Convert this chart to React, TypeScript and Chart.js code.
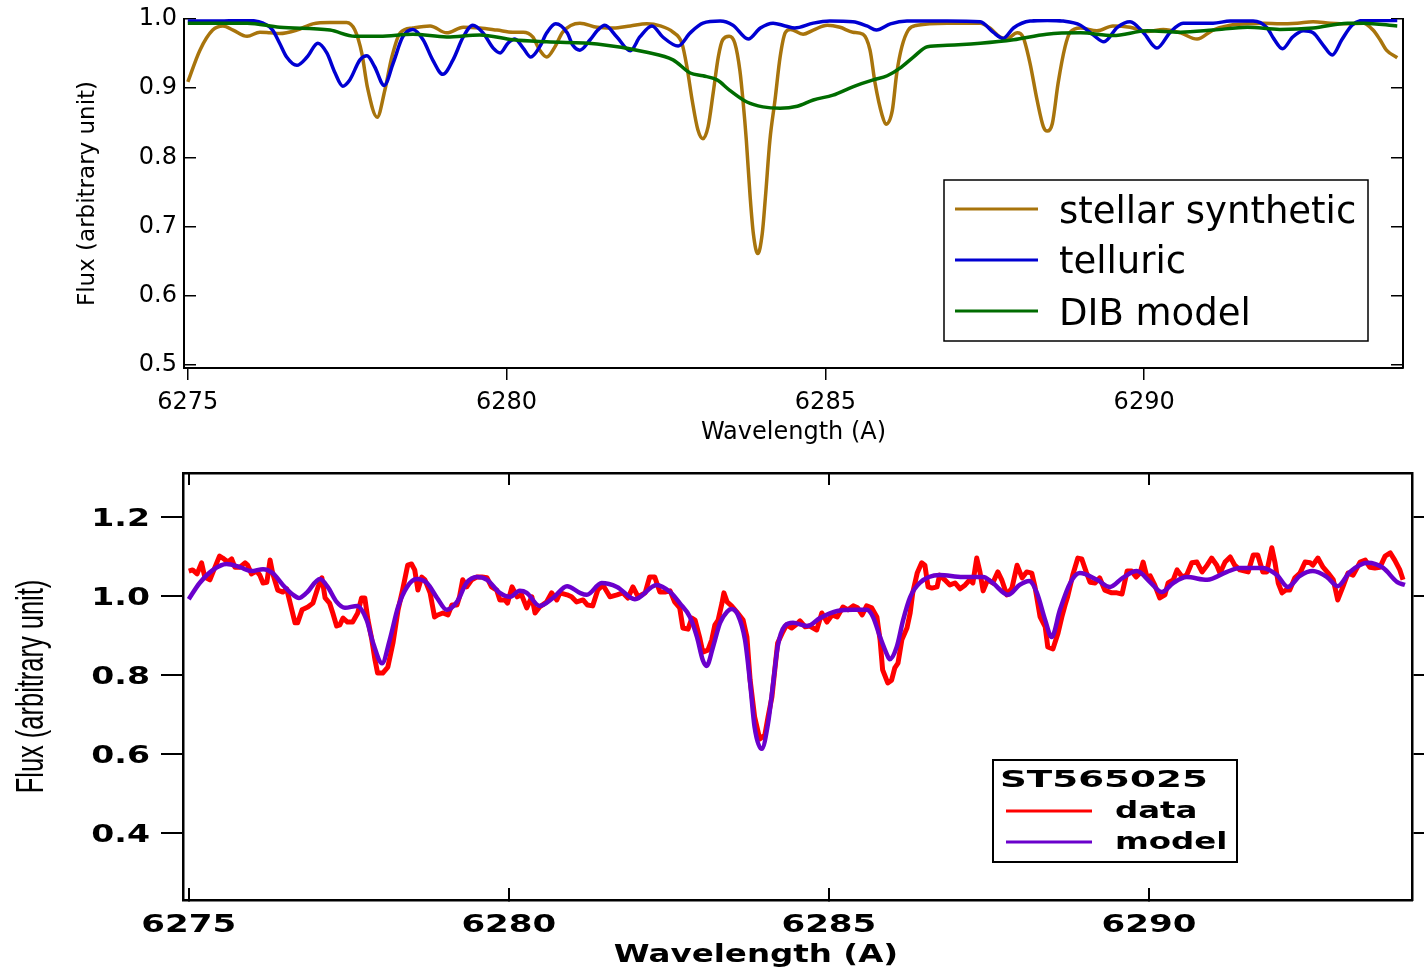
import React, { useEffect, useRef } from "react";
import { Chart, registerables } from "chart.js";

Chart.register(...registerables);

// ---------- shared ticks ----------
const xTickValues = [6275, 6280, 6285, 6290];
const topYTickValues = [0.5, 0.6, 0.7, 0.8, 0.9, 1.0];
const bottomYTickValues = [0.4, 0.6, 0.8, 1.0, 1.2];

// ---------- top panel series: [wavelength (A), flux] ----------
const stellarSynthetic: [number, number][] = [
  [6275.0, 0.909], [6275.19, 0.955], [6275.39, 0.984], [6275.55, 0.99], [6275.71, 0.984], [6275.93, 0.975],
  [6276.13, 0.981], [6276.29, 0.98], [6276.44, 0.979], [6276.71, 0.984], [6276.96, 0.993], [6277.23, 0.995],
  [6277.49, 0.995], [6277.62, 0.984], [6277.73, 0.95], [6277.82, 0.9], [6277.97, 0.858], [6278.09, 0.897],
  [6278.2, 0.945], [6278.33, 0.98], [6278.53, 0.987], [6278.8, 0.99], [6279.06, 0.98], [6279.32, 0.988],
  [6279.58, 0.987], [6279.85, 0.984], [6280.1, 0.981], [6280.26, 0.981], [6280.41, 0.974], [6280.52, 0.955],
  [6280.63, 0.945], [6280.76, 0.96], [6280.88, 0.981], [6281.15, 0.994], [6281.42, 0.988], [6281.67, 0.987],
  [6281.94, 0.99], [6282.2, 0.993], [6282.41, 0.99], [6282.61, 0.981], [6282.75, 0.965], [6282.83, 0.93],
  [6282.91, 0.883], [6283.0, 0.84], [6283.08, 0.827], [6283.16, 0.844], [6283.24, 0.893], [6283.32, 0.945],
  [6283.39, 0.97], [6283.49, 0.975], [6283.58, 0.965], [6283.66, 0.925], [6283.71, 0.88], [6283.76, 0.825],
  [6283.82, 0.743], [6283.87, 0.69], [6283.94, 0.661], [6284.01, 0.69], [6284.06, 0.743], [6284.13, 0.825],
  [6284.21, 0.883], [6284.29, 0.945], [6284.37, 0.98], [6284.45, 0.985], [6284.65, 0.978], [6284.81, 0.984],
  [6285.03, 0.991], [6285.23, 0.988], [6285.43, 0.981], [6285.59, 0.978], [6285.7, 0.955], [6285.78, 0.907],
  [6285.89, 0.861], [6285.95, 0.848], [6286.05, 0.868], [6286.12, 0.922], [6286.2, 0.96], [6286.3, 0.984],
  [6286.44, 0.991], [6286.91, 0.994], [6287.43, 0.994], [6287.58, 0.987], [6287.74, 0.974], [6287.85, 0.972],
  [6288.01, 0.98], [6288.1, 0.974], [6288.21, 0.936], [6288.32, 0.883], [6288.42, 0.844], [6288.48, 0.838],
  [6288.56, 0.849], [6288.65, 0.907], [6288.76, 0.96], [6288.84, 0.981], [6289.0, 0.987], [6289.26, 0.983],
  [6289.51, 0.99], [6289.78, 0.988], [6290.05, 0.982], [6290.3, 0.985], [6290.57, 0.98], [6290.83, 0.971],
  [6291.08, 0.984], [6291.35, 0.991], [6291.62, 0.993], [6291.87, 0.994], [6292.14, 0.993], [6292.4, 0.994],
  [6292.65, 0.996], [6292.92, 0.994], [6293.19, 0.993], [6293.44, 0.994], [6293.59, 0.984], [6293.7, 0.97],
  [6293.8, 0.955], [6293.97, 0.944],
];

const telluric: [number, number][] = [
  [6275.0, 0.997], [6275.39, 0.997], [6275.93, 0.998], [6276.18, 0.994], [6276.33, 0.984], [6276.44, 0.965],
  [6276.55, 0.945], [6276.71, 0.933], [6276.87, 0.945], [6277.04, 0.965], [6277.18, 0.951], [6277.31, 0.922],
  [6277.43, 0.903], [6277.54, 0.912], [6277.7, 0.941], [6277.81, 0.947], [6277.93, 0.931], [6278.08, 0.904],
  [6278.22, 0.936], [6278.37, 0.974], [6278.53, 0.985], [6278.69, 0.97], [6278.84, 0.941], [6279.0, 0.92],
  [6279.16, 0.941], [6279.32, 0.974], [6279.47, 0.991], [6279.63, 0.98], [6279.79, 0.958], [6279.9, 0.951],
  [6280.02, 0.965], [6280.13, 0.971], [6280.26, 0.958], [6280.38, 0.945], [6280.52, 0.96], [6280.63, 0.98],
  [6280.77, 0.993], [6280.95, 0.98], [6281.04, 0.962], [6281.15, 0.955], [6281.31, 0.97], [6281.43, 0.984],
  [6281.54, 0.991], [6281.73, 0.974], [6281.94, 0.954], [6282.09, 0.974], [6282.28, 0.99], [6282.45, 0.974],
  [6282.69, 0.961], [6282.88, 0.98], [6283.08, 0.994], [6283.35, 0.997], [6283.55, 0.991], [6283.79, 0.971],
  [6283.98, 0.987], [6284.18, 0.994], [6284.37, 0.99], [6284.52, 0.987], [6284.81, 0.994], [6285.07, 0.997],
  [6285.43, 0.996], [6285.65, 0.99], [6285.8, 0.984], [6286.02, 0.993], [6286.28, 0.997], [6286.91, 0.997],
  [6287.43, 0.996], [6287.63, 0.981], [6287.79, 0.972], [6287.95, 0.987], [6288.21, 0.997], [6288.48, 0.998],
  [6288.73, 0.997], [6289.0, 0.991], [6289.2, 0.977], [6289.37, 0.967], [6289.58, 0.988], [6289.78, 0.996],
  [6289.99, 0.98], [6290.2, 0.958], [6290.41, 0.981], [6290.61, 0.994], [6291.08, 0.994], [6291.35, 0.997],
  [6291.71, 0.997], [6291.93, 0.987], [6292.03, 0.972], [6292.17, 0.957], [6292.33, 0.974], [6292.5, 0.983],
  [6292.65, 0.98], [6292.81, 0.962], [6292.95, 0.948], [6293.1, 0.97], [6293.26, 0.991], [6293.44, 0.998],
  [6293.97, 0.998],
];

const dibModel: [number, number][] = [
  [6275.0, 0.994], [6275.93, 0.994], [6276.44, 0.988], [6277.23, 0.984], [6277.62, 0.975], [6278.01, 0.975],
  [6278.53, 0.978], [6279.06, 0.974], [6279.58, 0.977], [6280.1, 0.97], [6280.63, 0.967], [6281.42, 0.964],
  [6282.2, 0.952], [6282.61, 0.941], [6282.88, 0.922], [6283.08, 0.918], [6283.3, 0.912], [6283.5, 0.897],
  [6283.77, 0.88], [6284.02, 0.873], [6284.29, 0.871], [6284.56, 0.874], [6284.81, 0.883], [6285.12, 0.89],
  [6285.43, 0.902], [6285.75, 0.912], [6285.97, 0.918], [6286.17, 0.929], [6286.38, 0.945], [6286.6, 0.96],
  [6286.91, 0.962], [6287.43, 0.965], [6287.95, 0.97], [6288.47, 0.978], [6289.0, 0.98], [6289.51, 0.976],
  [6290.05, 0.983], [6290.57, 0.981], [6291.08, 0.984], [6291.62, 0.988], [6292.13, 0.985], [6292.65, 0.987],
  [6293.19, 0.994], [6293.44, 0.994], [6293.97, 0.99],
];

// ---------- bottom panel series ----------
const observedData: [number, number][] = [
  [6275.0, 1.063], [6275.06, 1.066], [6275.13, 1.056], [6275.2, 1.084], [6275.25, 1.048], [6275.33, 1.041],
  [6275.41, 1.073], [6275.48, 1.101], [6275.53, 1.096], [6275.61, 1.086], [6275.67, 1.094], [6275.72, 1.073],
  [6275.8, 1.073], [6275.88, 1.084], [6275.92, 1.078], [6275.98, 1.056], [6276.06, 1.063], [6276.11, 1.053],
  [6276.16, 1.033], [6276.22, 1.035], [6276.27, 1.091], [6276.31, 1.058], [6276.39, 1.015], [6276.47, 1.01],
  [6276.53, 1.018], [6276.61, 0.965], [6276.66, 0.932], [6276.7, 0.932], [6276.77, 0.965], [6276.86, 0.972],
  [6276.94, 0.982], [6277.02, 1.023], [6277.08, 1.046], [6277.13, 0.995], [6277.2, 0.982], [6277.25, 0.957],
  [6277.31, 0.924], [6277.36, 0.927], [6277.41, 0.944], [6277.48, 0.934], [6277.56, 0.934], [6277.64, 0.957],
  [6277.7, 0.995], [6277.75, 0.995], [6277.8, 0.939], [6277.86, 0.889], [6277.91, 0.838], [6277.95, 0.805],
  [6278.03, 0.805], [6278.11, 0.82], [6278.19, 0.881], [6278.27, 0.965], [6278.34, 1.015], [6278.42, 1.078],
  [6278.48, 1.081], [6278.53, 1.066], [6278.58, 1.015], [6278.64, 1.048], [6278.69, 1.041], [6278.77, 1.008],
  [6278.84, 0.947], [6278.89, 0.952], [6278.97, 0.957], [6279.05, 0.952], [6279.11, 0.977], [6279.19, 0.977],
  [6279.23, 0.998], [6279.28, 1.041], [6279.34, 1.023], [6279.42, 1.041], [6279.5, 1.048], [6279.58, 1.048],
  [6279.66, 1.046], [6279.73, 1.023], [6279.81, 1.015], [6279.86, 0.99], [6279.94, 0.99], [6279.98, 0.982],
  [6280.05, 1.023], [6280.13, 0.998], [6280.2, 1.003], [6280.28, 0.97], [6280.36, 0.998], [6280.41, 0.957],
  [6280.48, 0.972], [6280.59, 0.985], [6280.67, 1.008], [6280.75, 0.99], [6280.8, 1.008], [6280.91, 1.003],
  [6280.98, 0.998], [6281.06, 0.985], [6281.16, 0.99], [6281.23, 0.977], [6281.31, 0.975], [6281.39, 1.015],
  [6281.47, 1.028], [6281.58, 0.998], [6281.69, 1.003], [6281.78, 1.008], [6281.86, 0.995], [6281.94, 1.023],
  [6282.02, 0.998], [6282.13, 1.008], [6282.2, 1.048], [6282.28, 1.048], [6282.36, 1.01], [6282.44, 1.01],
  [6282.52, 1.013], [6282.59, 0.985], [6282.67, 0.97], [6282.72, 0.919], [6282.8, 0.916], [6282.86, 0.944],
  [6282.91, 0.939], [6282.98, 0.896], [6283.03, 0.858], [6283.11, 0.863], [6283.17, 0.889], [6283.22, 0.927],
  [6283.27, 0.939], [6283.33, 0.982], [6283.36, 1.008], [6283.41, 0.985], [6283.48, 0.975], [6283.56, 0.96],
  [6283.66, 0.939], [6283.72, 0.896], [6283.77, 0.787], [6283.84, 0.694], [6283.92, 0.638], [6284.0, 0.648],
  [6284.05, 0.694], [6284.11, 0.744], [6284.16, 0.82], [6284.2, 0.881], [6284.28, 0.909], [6284.34, 0.927],
  [6284.42, 0.919], [6284.5, 0.929], [6284.55, 0.937], [6284.63, 0.922], [6284.7, 0.924], [6284.81, 0.914],
  [6284.89, 0.957], [6284.97, 0.934], [6285.05, 0.952], [6285.13, 0.947], [6285.22, 0.972], [6285.3, 0.965],
  [6285.38, 0.975], [6285.45, 0.97], [6285.52, 0.952], [6285.59, 0.975], [6285.67, 0.97], [6285.75, 0.947],
  [6285.8, 0.889], [6285.84, 0.813], [6285.92, 0.78], [6285.98, 0.787], [6286.03, 0.818], [6286.08, 0.83],
  [6286.14, 0.889], [6286.22, 0.919], [6286.27, 0.957], [6286.31, 1.008], [6286.38, 1.058], [6286.45, 1.084],
  [6286.5, 1.078], [6286.55, 1.023], [6286.61, 1.02], [6286.69, 1.023], [6286.73, 1.053], [6286.81, 1.041],
  [6286.89, 1.028], [6286.97, 1.033], [6287.05, 1.018], [6287.13, 1.028], [6287.2, 1.041], [6287.25, 1.033],
  [6287.31, 1.096], [6287.36, 1.061], [6287.41, 1.013], [6287.48, 1.041], [6287.56, 1.033], [6287.64, 1.061],
  [6287.7, 1.041], [6287.78, 1.003], [6287.86, 1.02], [6287.94, 1.078], [6288.02, 1.046], [6288.09, 1.061],
  [6288.17, 1.058], [6288.22, 1.023], [6288.3, 0.947], [6288.38, 0.922], [6288.42, 0.871], [6288.5, 0.866],
  [6288.58, 0.906], [6288.64, 0.947], [6288.69, 0.977], [6288.73, 0.998], [6288.81, 1.053], [6288.89, 1.096],
  [6288.95, 1.094], [6289.02, 1.061], [6289.08, 1.035], [6289.16, 1.033], [6289.23, 1.046], [6289.31, 1.015],
  [6289.42, 1.008], [6289.5, 1.008], [6289.58, 1.005], [6289.66, 1.063], [6289.73, 1.063], [6289.8, 1.048],
  [6289.86, 1.058], [6289.91, 1.086], [6289.97, 1.048], [6290.02, 1.051], [6290.09, 1.028], [6290.17, 0.995],
  [6290.25, 1.003], [6290.3, 1.033], [6290.38, 1.041], [6290.44, 1.066], [6290.52, 1.048], [6290.59, 1.053],
  [6290.67, 1.084], [6290.75, 1.086], [6290.83, 1.061], [6290.91, 1.078], [6290.98, 1.096], [6291.06, 1.078],
  [6291.11, 1.058], [6291.19, 1.086], [6291.27, 1.099], [6291.34, 1.078], [6291.42, 1.066], [6291.5, 1.063],
  [6291.55, 1.061], [6291.63, 1.104], [6291.7, 1.104], [6291.78, 1.061], [6291.84, 1.061], [6291.92, 1.122],
  [6291.97, 1.084], [6292.02, 1.033], [6292.08, 1.008], [6292.14, 1.015], [6292.2, 1.015], [6292.28, 1.046],
  [6292.36, 1.058], [6292.44, 1.086], [6292.52, 1.084], [6292.56, 1.078], [6292.64, 1.096], [6292.72, 1.073],
  [6292.8, 1.058], [6292.88, 1.041], [6292.95, 0.99], [6293.03, 1.023], [6293.11, 1.058], [6293.19, 1.053],
  [6293.3, 1.086], [6293.38, 1.091], [6293.45, 1.073], [6293.53, 1.071], [6293.61, 1.073], [6293.69, 1.101],
  [6293.77, 1.109], [6293.84, 1.091], [6293.92, 1.066], [6293.97, 1.041],
];

const fitModel: [number, number][] = [
  [6275.0, 0.992], [6275.17, 1.033], [6275.38, 1.066], [6275.59, 1.081], [6275.8, 1.073], [6275.98, 1.063],
  [6276.16, 1.068], [6276.31, 1.058], [6276.47, 1.028], [6276.63, 1.003], [6276.72, 0.995], [6276.84, 1.008],
  [6277.05, 1.043], [6277.17, 1.023], [6277.31, 0.985], [6277.44, 0.97], [6277.63, 0.975], [6277.78, 0.939],
  [6277.88, 0.881], [6278.02, 0.83], [6278.14, 0.889], [6278.27, 0.972], [6278.41, 1.023], [6278.56, 1.043],
  [6278.72, 1.033], [6278.88, 0.995], [6279.03, 0.965], [6279.19, 0.985], [6279.34, 1.033], [6279.5, 1.048],
  [6279.66, 1.041], [6279.86, 1.008], [6280.02, 0.998], [6280.17, 1.013], [6280.28, 1.008], [6280.48, 0.975],
  [6280.69, 0.995], [6280.91, 1.025], [6281.11, 1.008], [6281.22, 1.003], [6281.45, 1.033], [6281.69, 1.023],
  [6281.97, 0.992], [6282.31, 1.028], [6282.52, 1.01], [6282.67, 0.982], [6282.83, 0.947], [6282.94, 0.896],
  [6283.03, 0.838], [6283.09, 0.823], [6283.19, 0.871], [6283.3, 0.932], [6283.41, 0.96], [6283.48, 0.967],
  [6283.58, 0.952], [6283.69, 0.889], [6283.77, 0.78], [6283.84, 0.668], [6283.95, 0.613], [6284.05, 0.678],
  [6284.13, 0.78], [6284.2, 0.871], [6284.31, 0.924], [6284.44, 0.932], [6284.66, 0.924], [6284.86, 0.944],
  [6285.13, 0.962], [6285.38, 0.965], [6285.59, 0.965], [6285.69, 0.947], [6285.8, 0.896], [6285.91, 0.851],
  [6285.95, 0.84], [6286.06, 0.871], [6286.16, 0.939], [6286.27, 0.997], [6286.42, 1.033], [6286.73, 1.053],
  [6287.09, 1.048], [6287.41, 1.048], [6287.56, 1.033], [6287.8, 1.003], [6287.98, 1.028], [6288.13, 1.038],
  [6288.25, 1.008], [6288.38, 0.939], [6288.48, 0.896], [6288.61, 0.965], [6288.77, 1.033], [6288.92, 1.058],
  [6289.19, 1.041], [6289.39, 1.023], [6289.59, 1.046], [6289.81, 1.063], [6290.02, 1.035], [6290.2, 1.01],
  [6290.38, 1.033], [6290.59, 1.048], [6290.91, 1.041], [6291.22, 1.061], [6291.42, 1.071], [6291.78, 1.071],
  [6292.0, 1.053], [6292.17, 1.023], [6292.36, 1.051], [6292.56, 1.063], [6292.78, 1.048], [6292.95, 1.025],
  [6293.14, 1.061], [6293.42, 1.084], [6293.66, 1.071], [6293.88, 1.035], [6294.0, 1.028],
];

const topLegendLabels = ["stellar synthetic", "telluric", "DIB model"];
const bottomLegendTitle = "ST565025";
const bottomLegendLabels = ["data", "model"];
const xAxisTitle = "Wavelength (A)";
const yAxisTitle = "Flux (arbitrary unit)";

const STELLAR = "#A8740C";
const TELLURIC = "#0000D2";
const DIB = "#006C00";
const DATA = "#FF0000";
const MODEL = "#6A00CC";

const DEJAVU = "'DejaVu Sans', sans-serif";

const toXY = (arr: [number, number][]) => arr.map(([x, y]) => ({ x, y }));
const fixTicks = (values: number[]) => (scale: any) => {
  scale.ticks = values.map((v) => ({ value: v }));
};
const fixSize = (prop: "width" | "height", size: number) => (s: any) => {
  s[prop] = size;
  s.paddingTop = 0;
  s.paddingBottom = 0;
  s.paddingLeft = 0;
  s.paddingRight = 0;
};

function drawStretched(ctx: CanvasRenderingContext2D, text: string, x: number, y: number, size: number, sx: number, align: CanvasTextAlign, weight = "bold") {
  ctx.save();
  ctx.font = `${weight} ${size}px ${DEJAVU}`;
  ctx.textAlign = align;
  ctx.textBaseline = "alphabetic";
  ctx.fillStyle = "#000";
  ctx.translate(x, y);
  ctx.scale(sx, 1);
  ctx.fillText(text, 0, 0);
  ctx.restore();
}

const topLegendPlugin = {
  id: "topLegend",
  afterDraw(chart: any) {
    const ctx: CanvasRenderingContext2D = chart.ctx;
    const colors = [STELLAR, TELLURIC, DIB];
    const lineY = [209, 260, 311];
    const baseY = [223, 273, 325];
    ctx.save();
    ctx.fillStyle = "#fff";
    ctx.fillRect(944, 180, 424, 161);
    ctx.strokeStyle = "#000";
    ctx.lineWidth = 1.5;
    ctx.strokeRect(944, 180, 424, 161);
    topLegendLabels.forEach((label, i) => {
      ctx.strokeStyle = colors[i];
      ctx.lineWidth = 3;
      ctx.beginPath();
      ctx.moveTo(955, lineY[i]);
      ctx.lineTo(1038, lineY[i]);
      ctx.stroke();
      ctx.fillStyle = "#000";
      ctx.font = `37px ${DEJAVU}`;
      ctx.textAlign = "left";
      ctx.textBaseline = "alphabetic";
      ctx.fillText(label, 1059, baseY[i]);
    });
    ctx.restore();
  },
};

const bottomTextPlugin = {
  id: "bottomText",
  afterDraw(chart: any) {
    const ctx: CanvasRenderingContext2D = chart.ctx;
    const xs = chart.scales.x;
    const ys = chart.scales.y;
    bottomYTickValues.forEach((v) => {
      drawStretched(ctx, v.toFixed(1), 150, ys.getPixelForValue(v) + 8.8, 24, 1.38, "right");
    });
    xTickValues.forEach((v) => {
      drawStretched(ctx, String(v), xs.getPixelForValue(v), 472, 24, 1.42, "center");
    });
    drawStretched(ctx, xAxisTitle, 756, 502, 25, 1.3, "center");
    // y title (condensed)
    ctx.save();
    ctx.translate(33, (chart.chartArea.top + chart.chartArea.bottom) / 2);
    ctx.rotate(-Math.PI / 2);
    ctx.scale(0.67, 1);
    ctx.font = "38px 'Liberation Sans', sans-serif";
    ctx.textAlign = "center";
    ctx.textBaseline = "middle";
    ctx.fillStyle = "#000";
    ctx.fillText(yAxisTitle, 0, 0);
    ctx.restore();
    // legend
    ctx.save();
    ctx.fillStyle = "#fff";
    ctx.fillRect(993, 300, 244, 102);
    ctx.strokeStyle = "#000";
    ctx.lineWidth = 2;
    ctx.strokeRect(993, 300, 244, 102);
    ctx.restore();
    drawStretched(ctx, bottomLegendTitle, 1000, 327, 23, 1.62, "left");
    const colors = [DATA, MODEL];
    const lineY = [351, 382];
    const baseY = [358, 389];
    bottomLegendLabels.forEach((label, i) => {
      ctx.save();
      ctx.strokeStyle = colors[i];
      ctx.lineWidth = 3;
      ctx.beginPath();
      ctx.moveTo(1006, lineY[i]);
      ctx.lineTo(1092, lineY[i]);
      ctx.stroke();
      ctx.restore();
      drawStretched(ctx, label, 1115, baseY[i], 23, 1.41, "left");
    });
  },
};

export default function App() {
  const topRef = useRef<HTMLCanvasElement>(null);
  const botRef = useRef<HTMLCanvasElement>(null);

  useEffect(() => {
    const black = "#000";
    const topMin = 0.4957, topMax = 1.0;
    const topXMin = 6274.94, topXMax = 6294.06;

    const topChart = new Chart(topRef.current as HTMLCanvasElement, {
      type: "line",
      data: {
        datasets: [
          { label: topLegendLabels[0], data: toXY(stellarSynthetic), borderColor: STELLAR, borderWidth: 3.5, pointRadius: 0, cubicInterpolationMode: "monotone", fill: false, order: 3 },
          { label: topLegendLabels[1], data: toXY(telluric), borderColor: TELLURIC, borderWidth: 3.5, pointRadius: 0, cubicInterpolationMode: "monotone", fill: false, order: 2 },
          { label: topLegendLabels[2], data: toXY(dibModel), borderColor: DIB, borderWidth: 3.5, pointRadius: 0, cubicInterpolationMode: "monotone", fill: false, order: 1 },
        ],
      } as any,
      options: {
        responsive: false,
        animation: false,
        devicePixelRatio: 1,
        layout: { padding: { top: 19, left: 0, right: 0, bottom: 0 }, autoPadding: false },
        plugins: { legend: { display: false }, tooltip: { enabled: false } },
        scales: {
          x: {
            type: "linear", position: "bottom", min: topXMin, max: topXMax,
            afterBuildTicks: fixTicks(xTickValues),
            afterFit: fixSize("height", 82),
            grid: { drawOnChartArea: false, drawTicks: true, tickLength: 12, color: black, lineWidth: 1.5 },
            border: { color: black, width: 2 },
            ticks: { color: black, font: { family: DEJAVU, size: 24 }, padding: 8, maxRotation: 0, autoSkip: false, callback: (v: any) => String(v) },
            title: { display: true, text: xAxisTitle, color: black, font: { family: DEJAVU, size: 24 }, padding: { top: 0, bottom: 3 } },
          },
          y: {
            type: "linear", position: "left", min: topMin, max: topMax,
            afterBuildTicks: fixTicks(topYTickValues),
            afterFit: fixSize("width", 184),
            grid: { drawOnChartArea: false, drawTicks: true, tickLength: -12, color: black, lineWidth: 1.5 },
            border: { color: black, width: 2 },
            ticks: { color: black, font: { family: DEJAVU, size: 24 }, padding: 19, callback: (v: any) => Number(v).toFixed(1) },
            title: { display: true, text: yAxisTitle, color: black, font: { family: DEJAVU, size: 23 }, padding: { top: 74, bottom: 0 } },
          },
          y2: {
            type: "linear", position: "right", min: topMin, max: topMax,
            afterBuildTicks: fixTicks(topYTickValues),
            afterFit: fixSize("width", 21),
            grid: { drawOnChartArea: false, drawTicks: true, tickLength: -12, color: black, lineWidth: 1.5 },
            border: { color: black, width: 2 },
            ticks: { display: false },
          },
        },
      } as any,
      plugins: [topLegendPlugin],
    });

    const botMin = 0.2304, botMax = 1.3114;
    const botXMin = 6274.91, botXMax = 6294.11;
    const botChart = new Chart(botRef.current as HTMLCanvasElement, {
      type: "line",
      data: {
        datasets: [
          { label: bottomLegendLabels[0], data: toXY(observedData), borderColor: DATA, borderWidth: 5, pointRadius: 0, tension: 0, fill: false, order: 2, borderJoinStyle: "round" },
          { label: bottomLegendLabels[1], data: toXY(fitModel), borderColor: MODEL, borderWidth: 4.5, pointRadius: 0, cubicInterpolationMode: "monotone", fill: false, order: 1 },
        ],
      } as any,
      options: {
        responsive: false,
        animation: false,
        devicePixelRatio: 1,
        layout: { padding: 0, autoPadding: false },
        plugins: { legend: { display: false }, tooltip: { enabled: false } },
        scales: {
          x: {
            type: "linear", position: "bottom", min: botXMin, max: botXMax,
            afterBuildTicks: fixTicks(xTickValues),
            afterFit: fixSize("height", 71),
            grid: { drawOnChartArea: false, drawTicks: true, tickLength: -12, color: black, lineWidth: 2 },
            border: { color: black, width: 2.5 },
            ticks: { display: false },
          },
          x2: {
            type: "linear", position: "top", min: botXMin, max: botXMax,
            afterBuildTicks: fixTicks(xTickValues),
            afterFit: fixSize("height", 13),
            grid: { drawOnChartArea: false, drawTicks: true, tickLength: -12, color: black, lineWidth: 2 },
            border: { color: black, width: 2.5 },
            ticks: { display: false },
          },
          y: {
            type: "linear", position: "left", min: botMin, max: botMax,
            afterBuildTicks: fixTicks(bottomYTickValues),
            afterFit: fixSize("width", 183),
            grid: { drawOnChartArea: false, drawTicks: true, tickLength: 22, color: black, lineWidth: 2 },
            border: { color: black, width: 2.5 },
            ticks: { display: false },
          },
          y2: {
            type: "linear", position: "right", min: botMin, max: botMax,
            afterBuildTicks: fixTicks(bottomYTickValues),
            afterFit: fixSize("width", 12),
            grid: { drawOnChartArea: false, drawTicks: true, tickLength: 12, color: black, lineWidth: 2 },
            border: { color: black, width: 2.5 },
            ticks: { display: false },
          },
        },
      } as any,
      plugins: [bottomTextPlugin],
    });

    return () => {
      topChart.destroy();
      botChart.destroy();
    };
  }, []);

  return (
    <div style={{ position: "absolute", left: 0, top: 0, width: 1424, height: 971, background: "#fff", overflow: "hidden" }}>
      <canvas ref={topRef} width={1424} height={450} style={{ position: "absolute", left: 0, top: 0 }} />
      <canvas ref={botRef} width={1424} height={511} style={{ position: "absolute", left: 0, top: 460 }} />
    </div>
  );
}
